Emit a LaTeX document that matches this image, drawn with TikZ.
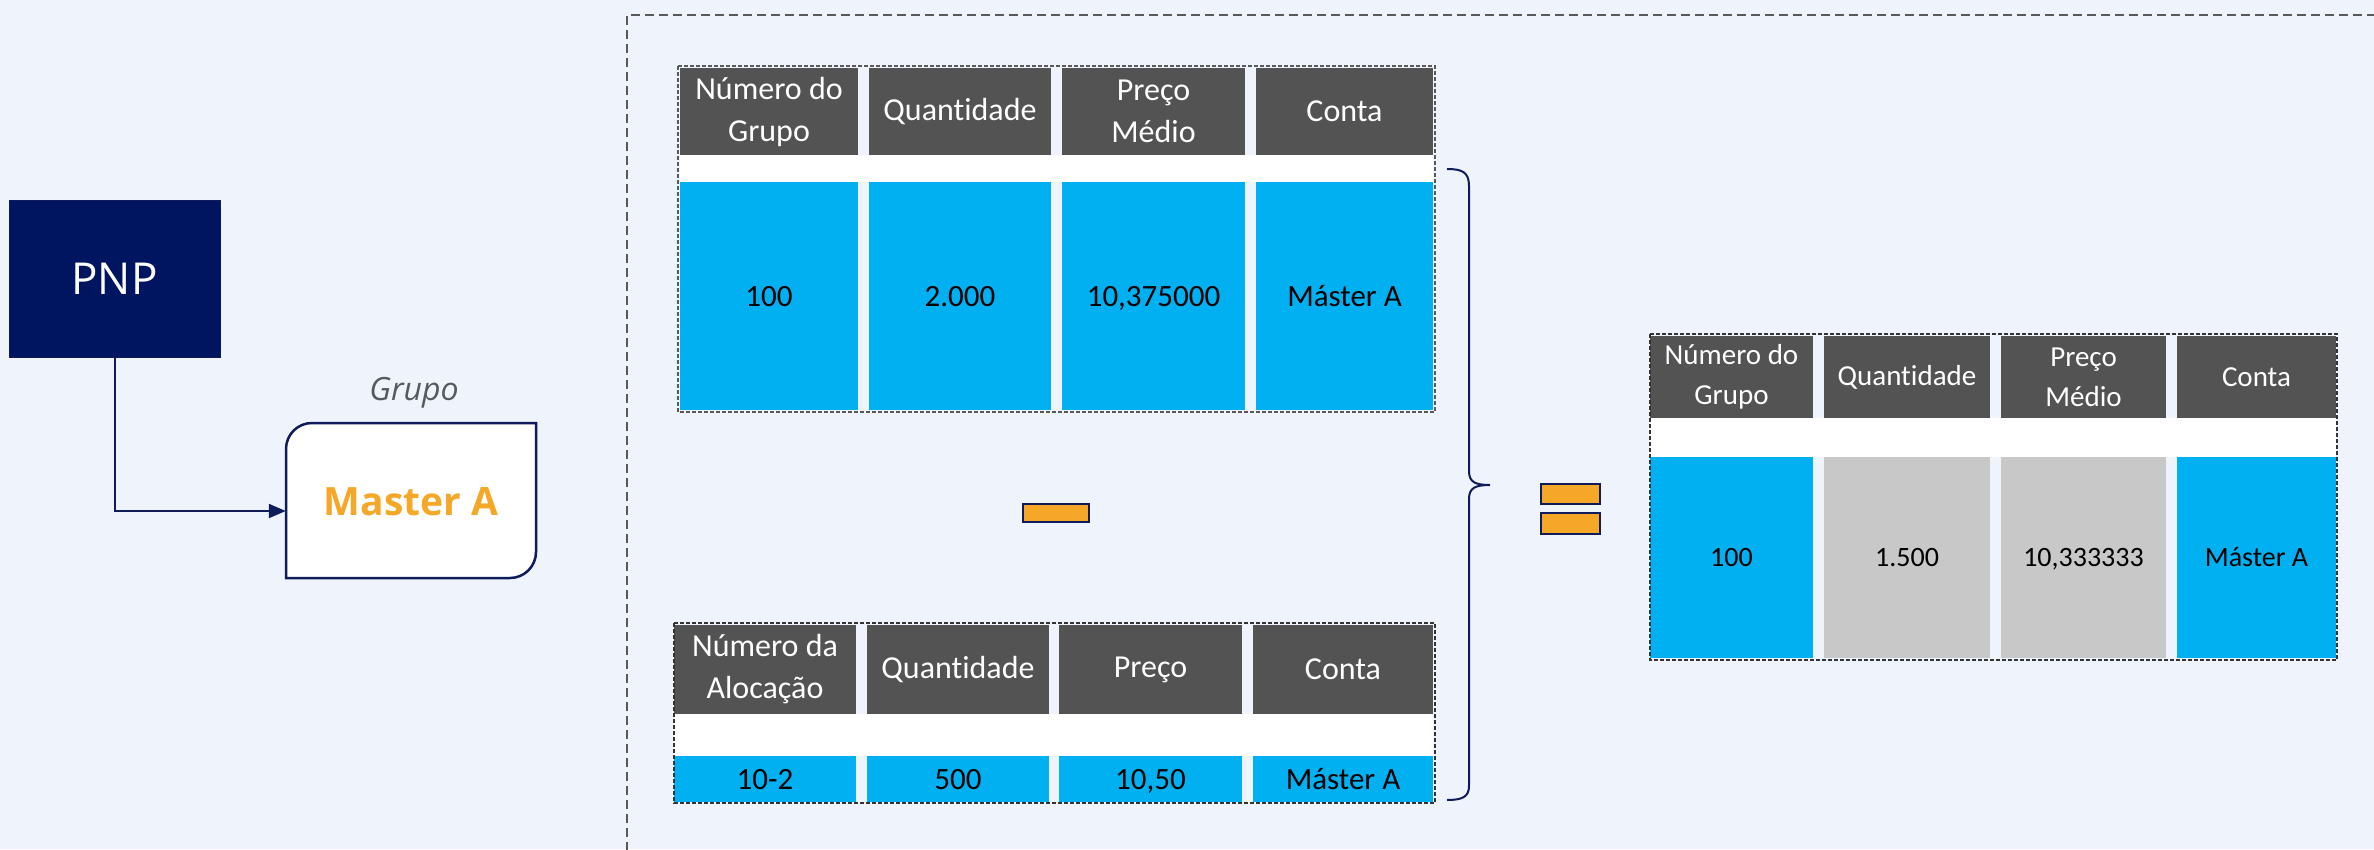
\documentclass[tikz,border=0pt]{standalone}
\usepackage{fontspec}
\setmainfont{Carlito}[Ligatures={TeX,NoCommon}]
\newfontfamily\segoe{Open Sans}
\usetikzlibrary{arrows.meta}
\definecolor{bgc}{RGB}{239,244,252}
\definecolor{navy}{RGB}{0,21,96}
\definecolor{navyline}{RGB}{16,27,92}
\definecolor{orangec}{RGB}{245,168,40}
\definecolor{hdrgray}{RGB}{83,83,83}
\definecolor{cyanc}{RGB}{0,176,240}
\definecolor{lgray}{RGB}{200,200,200}
\definecolor{dashgray}{RGB}{89,89,89}
\definecolor{txtgray}{RGB}{85,90,96}
\tikzset{
  cellbase/.style={inner sep=0pt, align=center, draw=none},
  hdrA/.style={cellbase, fill=hdrgray, text=white, font=\fontsize{32}{42}\selectfont},
  valA/.style={cellbase, fill=cyanc, text=black, font=\fontsize{31}{42}\selectfont, text height=20pt, text depth=0pt},
  hdrB/.style={cellbase, fill=hdrgray, text=white, font=\fontsize{29}{40}\selectfont},
  valB/.style={cellbase, fill=cyanc, text=black, font=\fontsize{28}{40}\selectfont, text height=18pt, text depth=0pt},
  valG/.style={valB, fill=lgray},
  tableframe/.style={draw=dashgray, line width=1.5pt, dash pattern=on 4pt off 2pt},
  sign/.style={draw=navyline, fill=orangec, line width=2pt, inner sep=0pt},
}
\begin{document}
\begin{tikzpicture}[x=1pt, y=-1pt]
\useasboundingbox (0,0) rectangle (2374,849);
\fill[bgc] (0,0) rectangle (2374,849);
\clip (0,0) rectangle (2374,849);

% outer dashed frame
\draw[dashgray, line width=2pt, dash pattern=on 9pt off 5pt] (2390,15) -- (627,15) -- (627,870);

% PNP and Master A
\node[fill=navy, draw=navyline, line width=1pt, minimum width=211pt, minimum height=157pt, inner sep=0pt,
      text=white, font=\segoe\fontsize{44}{50}\selectfont] (pnp) at (114.5,278.5) {PNP};
\draw[navyline, line width=2.5pt, fill=white] (286,578) -- (286,449) arc[start angle=180, end angle=270, radius=26] -- (536,423) -- (536,552) arc[start angle=0, end angle=90, radius=26] -- cycle;
\node[draw=none, fill=none, minimum width=250pt, minimum height=155pt, inner sep=0pt] (master) at (411,511) {};
\node[text=orangec, font=\segoe\bfseries\fontsize{39}{45}\selectfont] (mastertxt) at (411,502) {Master A};
\node[text=txtgray, font=\segoe\itshape\fontsize{32}{38}\selectfont] (grupo) at (414,393) {Grupo};
\draw[navyline, line width=2pt, -{Triangle[length=17pt, width=14pt]}] (pnp.south) |- (master.west);

% top table
\fill[white] (680,155) rectangle (1433,182);
\node[hdrA, minimum width=178pt, minimum height=87pt] (t1h1) at (769,111.5) {Número do\\Grupo};
\node[hdrA, minimum width=182pt, minimum height=87pt] (t1h2) at (960,111.5) {Quantidade};
\node[hdrA, minimum width=183pt, minimum height=87pt] (t1h3) at (1153.5,111.5) {Preço\\Médio};
\node[hdrA, minimum width=177pt, minimum height=87pt] (t1h4) at (1344.5,111.5) {Conta};
\node[valA, minimum width=178pt, minimum height=228pt] (t1v1) at (769,296) {100};
\node[valA, minimum width=182pt, minimum height=228pt] (t1v2) at (960,296) {2.000};
\node[valA, minimum width=183pt, minimum height=228pt] (t1v3) at (1153.5,296) {10,375000};
\node[valA, minimum width=177pt, minimum height=228pt] (t1v4) at (1344.5,296) {Máster A};
\draw[tableframe] (678,66) rectangle (1435,412);

% minus
\node[sign, minimum width=66pt, minimum height=18pt] (minus) at (1055.5,513) {};

% bottom table
\fill[white] (674,714) rectangle (1433,756);
\node[hdrA, minimum width=182pt, minimum height=89pt] (t2h1) at (765,669.5) {Número da\\Alocação};
\node[hdrA, minimum width=182pt, minimum height=89pt] (t2h2) at (958,669.5) {Quantidade};
\node[hdrA, minimum width=183pt, minimum height=89pt] (t2h3) at (1150.5,669.5) {Preço};
\node[hdrA, minimum width=180pt, minimum height=89pt] (t2h4) at (1343,669.5) {Conta};
\node[valA, minimum width=182pt, minimum height=46pt] (t2v1) at (765,779) {10-2};
\node[valA, minimum width=182pt, minimum height=46pt] (t2v2) at (958,779) {500};
\node[valA, minimum width=183pt, minimum height=46pt] (t2v3) at (1150.5,779) {10,50};
\node[valA, minimum width=180pt, minimum height=46pt] (t2v4) at (1343,779) {Máster A};
\draw[tableframe, draw=black!80] (674,623) rectangle (1435,803);

% brace
\draw[navyline, line width=2pt] (1447,169) .. controls (1462,169) and (1469,172) .. (1469,186)
  -- (1469,471) .. controls (1469,482) and (1475,485) .. (1490,485)
  .. controls (1475,485) and (1469,488) .. (1469,499)
  -- (1469,786) .. controls (1469,797) and (1462,800) .. (1447,800);

% equals
\node[sign, minimum width=59pt, minimum height=20pt] (eq1) at (1570,494) {};
\node[sign, minimum width=59pt, minimum height=21pt] (eq2) at (1570,523) {};

% result table
\fill[white] (1650,418) rectangle (2336,457);
\node[hdrB, minimum width=163pt, minimum height=82pt] (t3h1) at (1731.5,377) {Número do\\Grupo};
\node[hdrB, minimum width=166pt, minimum height=82pt] (t3h2) at (1907,377) {Quantidade};
\node[hdrB, minimum width=165pt, minimum height=82pt] (t3h3) at (2083.5,377) {Preço\\Médio};
\node[hdrB, minimum width=159pt, minimum height=82pt] (t3h4) at (2256.5,377) {Conta};
\node[valB, minimum width=163pt, minimum height=201pt] (t3v1) at (1731.5,557.5) {100};
\node[valG, minimum width=166pt, minimum height=201pt] (t3v2) at (1907,557.5) {1.500};
\node[valG, minimum width=165pt, minimum height=201pt] (t3v3) at (2083.5,557.5) {10,333333};
\node[valB, minimum width=159pt, minimum height=201pt] (t3v4) at (2256.5,557.5) {Máster A};
\draw[tableframe, draw=black!80] (1650,334) rectangle (2337,660);
\end{tikzpicture}
\end{document}
